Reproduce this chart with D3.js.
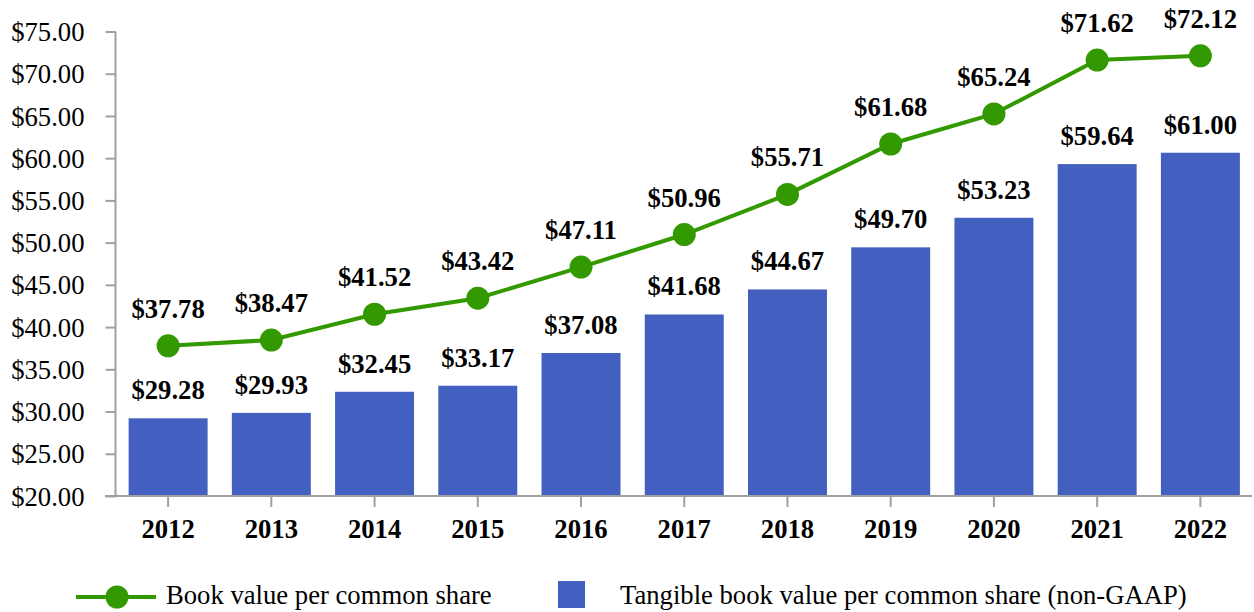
<!DOCTYPE html>
<html>
<head>
<meta charset="utf-8">
<script src="https://cdn.jsdelivr.net/npm/d3@7"></script>
</head>
<body style="margin:0; background:#fff">
<div class="chart"></div>
<script>
// chart data
var years = ["2012", "2013", "2014", "2015", "2016", "2017", "2018", "2019", "2020", "2021", "2022"];
var bookValue = [37.78, 38.47, 41.52, 43.42, 47.11, 50.96, 55.71, 61.68, 65.24, 71.62, 72.12];
var tangibleValue = [29.28, 29.93, 32.45, 33.17, 37.08, 41.68, 44.67, 49.70, 53.23, 59.64, 61.00];
var yTicks = [20, 25, 30, 35, 40, 45, 50, 55, 60, 65, 70, 75];
var legendLabels = ["Book value per common share", "Tangible book value per common share (non-GAAP)"];

var width = 1254,
    height = 612;

var barColor = "#435fbf",
    lineColor = "#339900",
    axisColor = "#a0a0a0",
    fontFam = "'Liberation Serif', 'Times New Roman', serif",
    fontSize = "26.67px";

var svg = d3.select("div.chart")
    .append("svg")
    .attr("width", width)
    .attr("height", height)
    .style("font-family", fontFam);

//scales
var x = d3.scaleBand()
    .domain(years)
    .range([116.5, 1252])
    .paddingInner(0.235)
    .paddingOuter(0.1175);

var y = d3.scaleLinear()
    .domain([20, 75])
    .range([496, 31.5]);

// bars sit on a slightly compressed secondary scale, as in the original
var yBar = d3.scaleLinear()
    .domain([20, 75])
    .range([496, 35.5]);

var fmt = function(v){ return "$" + d3.format(".2f")(v); };

//bars
svg.selectAll(".bar")
    .data(tangibleValue)
    .enter()
    .append("rect")
    .attr("class", "bar")
    .attr("x", function(d, i){ return x(years[i]); })
    .attr("y", function(d){ return yBar(d); })
    .attr("width", x.bandwidth())
    .attr("height", function(d){ return yBar(20) - yBar(d); })
    .attr("fill", barColor);

//y axis
var yAxis = svg.append("g")
    .attr("transform", "translate(115.5,0)")
    .call(d3.axisLeft(y).tickValues(yTicks).tickSize(10).tickPadding(21).tickFormat(fmt));
yAxis.attr("font-family", null).attr("font-size", null);
yAxis.select(".domain").attr("stroke", axisColor).attr("stroke-width", 2).attr("d", "M0," + y(75) + "V" + y(20));
yAxis.selectAll(".tick line").attr("stroke", axisColor).attr("stroke-width", 2);
yAxis.selectAll(".tick text")
    .style("font-family", fontFam)
    .style("font-size", fontSize)
    .attr("dy", "0.34em");

//x axis
var xAxis = svg.append("g")
    .attr("transform", "translate(0," + y(20) + ")")
    .call(d3.axisBottom(x).tickSize(11).tickPadding(12));
xAxis.attr("font-family", null).attr("font-size", null);
xAxis.select(".domain").attr("stroke", axisColor).attr("stroke-width", 2).attr("d", "M105,0H1252");
xAxis.selectAll(".tick line").attr("stroke", axisColor).attr("stroke-width", 2);
xAxis.selectAll(".tick text")
    .style("font-family", fontFam)
    .style("font-size", fontSize)
    .style("font-weight", "bold")
    .attr("dy", "0.71em");

//line
var cx = function(i){ return x(years[i]) + x.bandwidth() / 2; };
var line = d3.line()
    .x(function(d, i){ return cx(i); })
    .y(function(d){ return y(d); });

svg.append("path")
    .datum(bookValue)
    .attr("d", line)
    .attr("fill", "none")
    .attr("stroke", lineColor)
    .attr("stroke-width", 4);

svg.selectAll(".dot")
    .data(bookValue)
    .enter()
    .append("circle")
    .attr("class", "dot")
    .attr("cx", function(d, i){ return cx(i); })
    .attr("cy", function(d){ return y(d); })
    .attr("r", 11.5)
    .attr("fill", lineColor);

//data labels
svg.selectAll(".lineLabel")
    .data(bookValue)
    .enter()
    .append("text")
    .attr("class", "lineLabel")
    .attr("x", function(d, i){ return cx(i); })
    .attr("y", function(d){ return y(d) - 28; })
    .attr("text-anchor", "middle")
    .style("font-family", fontFam)
    .style("font-size", fontSize)
    .style("font-weight", "bold")
    .text(fmt);

svg.selectAll(".barLabel")
    .data(tangibleValue)
    .enter()
    .append("text")
    .attr("class", "barLabel")
    .attr("x", function(d, i){ return cx(i); })
    .attr("y", function(d){ return yBar(d) - 19; })
    .attr("text-anchor", "middle")
    .style("font-family", fontFam)
    .style("font-size", fontSize)
    .style("font-weight", "bold")
    .text(fmt);

//legend
var legend = svg.append("g");
legend.append("line")
    .attr("x1", 76).attr("x2", 156)
    .attr("y1", 597).attr("y2", 597)
    .attr("stroke", lineColor)
    .attr("stroke-width", 4);
legend.append("circle")
    .attr("cx", 117).attr("cy", 597)
    .attr("r", 11.5)
    .attr("fill", lineColor);
legend.append("text")
    .attr("x", 166).attr("y", 604)
    .style("font-family", fontFam)
    .style("font-size", fontSize)
    .text(legendLabels[0]);
legend.append("rect")
    .attr("x", 558).attr("y", 581)
    .attr("width", 27).attr("height", 27)
    .attr("fill", barColor);
legend.append("text")
    .attr("x", 620).attr("y", 604)
    .style("font-family", fontFam)
    .style("font-size", fontSize)
    .text(legendLabels[1]);
</script>
</body>
</html>
